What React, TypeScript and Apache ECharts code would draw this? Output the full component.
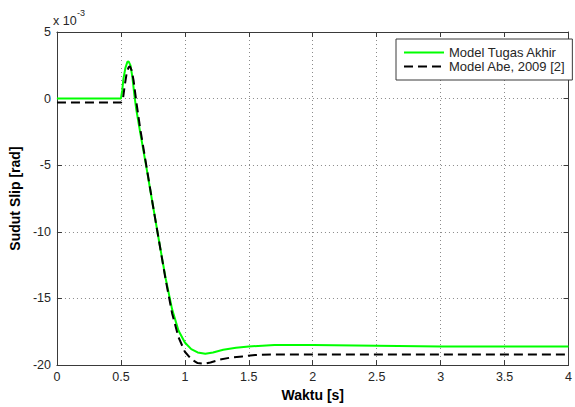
import React, { useEffect, useRef } from "react";
import * as echarts from "echarts";

// Values in units of 1e-3 rad (axis shows "x 10^-3")
const timeTugas: number[] = [0, 0.5, 0.51, 0.52, 0.535, 0.55, 0.56, 0.575, 0.59, 0.605, 0.62, 0.65, 0.7, 0.75, 0.8, 0.85, 0.9, 0.95, 1.0, 1.05, 1.1, 1.16, 1.22, 1.3, 1.4, 1.5, 1.7, 2.0, 2.5, 3, 4];
const slipTugas: number[] = [0, 0, 0.6, 1.5, 2.3, 2.75, 2.8, 2.5, 1.6, 0.3, -0.8, -2.5, -5.2, -8.0, -10.8, -13.5, -15.8, -17.4, -18.3, -18.8, -19.05, -19.15, -19.05, -18.85, -18.7, -18.6, -18.5, -18.5, -18.55, -18.6, -18.6];

const timeAbe: number[] = [0, 0.5, 0.515, 0.53, 0.545, 0.56, 0.57, 0.585, 0.6, 0.62, 0.65, 0.7, 0.75, 0.8, 0.85, 0.9, 0.95, 1.0, 1.05, 1.1, 1.15, 1.2, 1.27, 1.35, 1.45, 1.55, 1.7, 4];
const slipAbe: number[] = [-0.3, -0.3, -0.1, 1.0, 1.9, 2.35, 2.43, 2.1, 1.3, -0.2, -2.2, -5.1, -8.0, -10.8, -13.6, -16.1, -17.9, -19.0, -19.55, -19.85, -19.9, -19.8, -19.6, -19.45, -19.35, -19.25, -19.2, -19.2];

const seriesNames: string[] = ["Model Tugas Akhir", "Model Abe, 2009 [2]"];
const xTitle = "Waktu [s]";
const yTitle = "Sudut Slip [rad]";
const xRange: number[] = [0, 4, 0.5];
const yRange: number[] = [-20, 5, 5];

const FONT = "'Liberation Sans', Arial, Helvetica, sans-serif";
const AXIS_COLOR = "#3a3a3a";
const TEXT_COLOR = "#262626";
const GRID_COLOR = "#8a8a8a";

export default function App() {
  const ref = useRef<HTMLDivElement>(null);
  useEffect(() => {
    if (!ref.current) return;
    const chart = echarts.init(ref.current, undefined, { renderer: "svg" });
    const pair = (xs: number[], ys: number[]) => xs.map((x, i) => [x, ys[i]]);
    const mkLine = () => ({ show: true, onZero: false, lineStyle: { color: AXIS_COLOR, width: 1 } });
    const mkTick = () => ({ show: true, inside: true, length: 5, lineStyle: { color: AXIS_COLOR, width: 1 } });
    const mkSplit = () => ({ show: true, lineStyle: { color: GRID_COLOR, type: [1, 3], width: 1 } });
    chart.setOption({
      animation: false,
      backgroundColor: "#ffffff",
      textStyle: { fontFamily: FONT },
      grid: { left: 53, right: 5, top: 32, bottom: 38, containLabel: false },
      legend: {
        left: 396,
        top: 39,
        orient: "vertical",
        padding: [7, 7],
        itemGap: 1,
        itemWidth: 40,
        itemHeight: 12,
        backgroundColor: "#ffffff",
        borderColor: AXIS_COLOR,
        borderWidth: 1,
        borderRadius: 0,
        itemStyle: { opacity: 0 },
        textStyle: { fontFamily: FONT, fontSize: 13, color: TEXT_COLOR, lineHeight: 12 },
        data: seriesNames,
      },
      xAxis: [
        {
          type: "value",
          position: "bottom",
          min: xRange[0],
          max: xRange[1],
          interval: xRange[2],
          name: xTitle,
          nameLocation: "middle",
          nameGap: 20,
          nameTextStyle: { fontFamily: FONT, fontSize: 14, fontWeight: "bold", color: "#000", verticalAlign: "top" },
          axisLine: mkLine(),
          axisTick: mkTick(),
          axisLabel: { fontFamily: FONT, fontSize: 12.5, color: TEXT_COLOR, margin: 5 },
          splitLine: mkSplit(),
        },
        {
          type: "value",
          position: "top",
          min: xRange[0],
          max: xRange[1],
          interval: xRange[2],
          axisLine: mkLine(),
          axisTick: mkTick(),
          axisLabel: { show: false },
          splitLine: { show: false },
        },
      ],
      yAxis: [
        {
          type: "value",
          position: "left",
          min: yRange[0],
          max: yRange[1],
          interval: yRange[2],
          name: yTitle,
          nameLocation: "middle",
          nameGap: 28,
          nameRotate: 90,
          nameTextStyle: { fontFamily: FONT, fontSize: 14, fontWeight: "bold", color: "#000" },
          axisLine: mkLine(),
          axisTick: mkTick(),
          axisLabel: { fontFamily: FONT, fontSize: 12.5, color: TEXT_COLOR, margin: 6 },
          splitLine: mkSplit(),
        },
        {
          type: "value",
          position: "right",
          min: yRange[0],
          max: yRange[1],
          interval: yRange[2],
          axisLine: mkLine(),
          axisTick: mkTick(),
          axisLabel: { show: false },
          splitLine: { show: false },
        },
      ],
      graphic: [
        {
          type: "text",
          left: 53,
          top: 14,
          style: { text: "x 10", fontFamily: FONT, fontSize: 12.5, fill: TEXT_COLOR },
        },
        {
          type: "text",
          left: 77,
          top: 8,
          style: { text: "-3", fontFamily: FONT, fontSize: 9, fill: TEXT_COLOR },
        },
      ],
      series: [
        {
          name: seriesNames[0],
          type: "line",
          xAxisIndex: 0,
          yAxisIndex: 0,
          data: pair(timeTugas, slipTugas),
          showSymbol: false,
          symbol: "none",
          lineStyle: { color: "#00ff00", width: 2 },
          itemStyle: { color: "#00ff00" },
          z: 3,
        },
        {
          name: seriesNames[1],
          type: "line",
          xAxisIndex: 0,
          yAxisIndex: 0,
          data: pair(timeAbe, slipAbe),
          showSymbol: false,
          symbol: "none",
          lineStyle: { color: "#000000", width: 2, type: [9, 5] },
          itemStyle: { color: "#000000" },
          z: 4,
        },
      ],
    });
    return () => chart.dispose();
  }, []);
  return (
    <div
      ref={ref}
      style={{ position: "fixed", left: 0, top: 0, width: 575, height: 407, background: "#fff" }}
    />
  );
}
